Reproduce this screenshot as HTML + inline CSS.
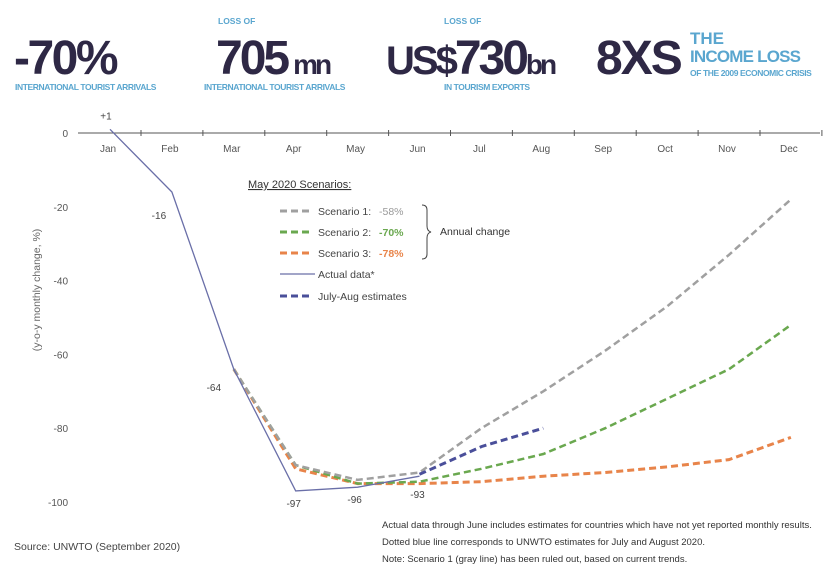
<!DOCTYPE html>
<html><head><meta charset="utf-8"><style>
body{margin:0;width:840px;height:577px;background:#fff;overflow:hidden;font-family:"Liberation Sans",sans-serif;}
svg text{font-family:"Liberation Sans",sans-serif;}
</style></head><body>
<svg id="chart" width="840" height="577">
<g>
 <text x="14" y="74" font-size="48" font-weight="bold" fill="#2e2845" letter-spacing="-2.5">-70%</text>
 <text x="15" y="90" font-size="8.5" font-weight="bold" fill="#5aa6cf" letter-spacing="-0.4">INTERNATIONAL TOURIST ARRIVALS</text>
 <text x="218" y="24" font-size="8.5" font-weight="bold" fill="#5aa6cf">LOSS OF</text>
 <text x="216" y="74" font-size="48" font-weight="bold" fill="#2e2845" letter-spacing="-3">705<tspan font-size="28" dx="6">mn</tspan></text>
 <text x="204" y="90" font-size="8.5" font-weight="bold" fill="#5aa6cf" letter-spacing="-0.4">INTERNATIONAL TOURIST ARRIVALS</text>
 <text x="444" y="24" font-size="8.5" font-weight="bold" fill="#5aa6cf">LOSS OF</text>
 <text x="386" y="74" font-size="40" font-weight="bold" fill="#2e2845" letter-spacing="-3">US$<tspan font-size="48">730</tspan><tspan font-size="28">bn</tspan></text>
 <text x="444" y="90" font-size="8.5" font-weight="bold" fill="#5aa6cf" letter-spacing="-0.4">IN TOURISM EXPORTS</text>
 <text x="596" y="74" font-size="48" font-weight="bold" fill="#2e2845" letter-spacing="-2">8XS</text>
 <text x="690" y="44" font-size="17" font-weight="bold" fill="#5aa6cf">THE</text>
 <text x="690" y="62" font-size="17" font-weight="bold" fill="#5aa6cf" letter-spacing="-0.8">INCOME LOSS</text>
 <text x="690" y="76" font-size="8.5" font-weight="bold" fill="#5aa6cf" letter-spacing="-0.4">OF THE 2009 ECONOMIC CRISIS</text>
</g>
<g id="axes"></g>
<g id="series"></g>
<g>
 <text x="248" y="188" font-size="11" fill="#333" text-decoration="underline">May 2020 Scenarios:</text>
 <line x1="280" y1="211" x2="312" y2="211" stroke="#a0a0a0" stroke-width="3" stroke-dasharray="7,4"/>
 <text x="318" y="215" font-size="10.5" fill="#444">Scenario 1:</text>
 <text x="379" y="215" font-size="10.5" fill="#999">-58%</text>
 <line x1="280" y1="232" x2="312" y2="232" stroke="#6aa84f" stroke-width="3" stroke-dasharray="7,4"/>
 <text x="318" y="236" font-size="10.5" fill="#444">Scenario 2:</text>
 <text x="379" y="236" font-size="10.5" fill="#6aa84f" font-weight="bold">-70%</text>
 <line x1="280" y1="253" x2="312" y2="253" stroke="#e8844a" stroke-width="3" stroke-dasharray="7,4"/>
 <text x="318" y="257" font-size="10.5" fill="#444">Scenario 3:</text>
 <text x="379" y="257" font-size="10.5" fill="#e8844a" font-weight="bold">-78%</text>
 <line x1="280" y1="274" x2="315" y2="274" stroke="#6a6fa8" stroke-width="1.3"/>
 <text x="318" y="278" font-size="10.5" fill="#444">Actual data*</text>
 <line x1="280" y1="296" x2="312" y2="296" stroke="#4a4f9a" stroke-width="3" stroke-dasharray="7,4"/>
 <text x="318" y="300" font-size="10.5" fill="#444">July-Aug estimates</text>
 <path d="M422,205 q5,0 5,5 v16 q0,5 4,6 q-4,1 -4,6 v16 q0,5 -5,5" fill="none" stroke="#444" stroke-width="1"/>
 <text x="440" y="235" font-size="10.5" fill="#333">Annual change</text>
</g>
<text x="14" y="550" font-size="10.5" fill="#444">Source: UNWTO (September 2020)</text>
<g>
 <text x="382" y="528" font-size="9.5" fill="#333">Actual data through June includes estimates for countries which have not yet reported monthly results.</text>
 <text x="382" y="545" font-size="9.5" fill="#333">Dotted blue line corresponds to UNWTO estimates for July and August 2020.</text>
 <text x="382" y="562" font-size="9.5" fill="#333">Note: Scenario 1 (gray line) has been ruled out, based on current trends.</text>
</g>
</svg>
<script>
const months=["Jan","Feb","Mar","Apr","May","Jun","Jul","Aug","Sep","Oct","Nov","Dec"];
const yTicks=[0,-20,-40,-60,-80,-100];
const actual=[1,-16,-64,-97,-96,-93];
const actualLabels=["+1","-16","-64","-97","-96","-93"];
const estimates=[-92.5,-85,-80];
const scenario1=[-64,-90,-94,-92,-80,-70,-59,-47,-33,-18];
const scenario2=[-64,-90,-95,-94.5,-91,-87,-80,-72,-64,-52];
const scenario3=[-64,-91,-95,-95,-94.5,-93,-92,-90.5,-88.5,-82.5];
const X=i=>110+i*61.9;
const Y=v=>133-v*3.69;
const NS="http://www.w3.org/2000/svg";
function mk(tag,attrs,parent){const e=document.createElementNS(NS,tag);for(const k in attrs)e.setAttribute(k,attrs[k]);parent.appendChild(e);return e;}
const ax=document.getElementById('axes'),sr=document.getElementById('series');
const xl=mk('line',{x1:78,y1:Y(0),x2:820,y2:Y(0),stroke:'#555','stroke-width':1},ax);


months.forEach((m,i)=>{
 const tk=mk('line',{x1:X(i)+31,y1:Y(0)-3,x2:X(i)+31,y2:Y(0)+3,stroke:'#555'},ax);
 
 
 const t=mk('text',{x:X(i)-2,y:Y(0)+19,'font-size':10,fill:'#555','text-anchor':'middle'},ax);
 t.textContent=m;
 
 
});
yTicks.forEach(v=>{
 const t=mk('text',{x:68,y:Y(v)+4,'font-size':10,fill:'#555','text-anchor':'end'},ax);
 t.textContent=v;
 
 
});
const yt=mk('text',{x:40,y:290,'font-size':10.5,fill:'#666','text-anchor':'middle',transform:'rotate(-90 40 290)'},ax);
yt.textContent='(y-o-y monthly change, %)';


function line(vals,start,attrs,name){
 const d=vals.map((v,i)=>(i?'L':'M')+X(start+i).toFixed(1)+','+Y(v).toFixed(1)).join(' ');
 const p=mk('path',Object.assign({d:d,fill:'none'},attrs),sr);
 
 
}
line(scenario3,2,{stroke:'#e8844a','stroke-width':3,'stroke-dasharray':'7,4'},'scenario-3-line');
line(scenario2,2,{stroke:'#6aa84f','stroke-width':2.5,'stroke-dasharray':'7,4'},'scenario-2-line');
line(scenario1,2,{stroke:'#a0a0a0','stroke-width':2.5,'stroke-dasharray':'7,4'},'scenario-1-line');
line(actual,0,{stroke:'#6a6fa8','stroke-width':1.3},'actual-data-line');
line(estimates,5,{stroke:'#4a4f9a','stroke-width':3,'stroke-dasharray':'7,4'},'estimates-line');
const off=[[-4,-10],[-13,27],[-20,22],[-2,16],[-3,16],[-2,22]];
actual.forEach((v,i)=>{
 const t=mk('text',{x:X(i)+off[i][0],y:Y(v)+off[i][1],'font-size':10,fill:'#444','text-anchor':'middle'},sr);
 t.textContent=actualLabels[i];
 
 
});
</script>
</body></html>
